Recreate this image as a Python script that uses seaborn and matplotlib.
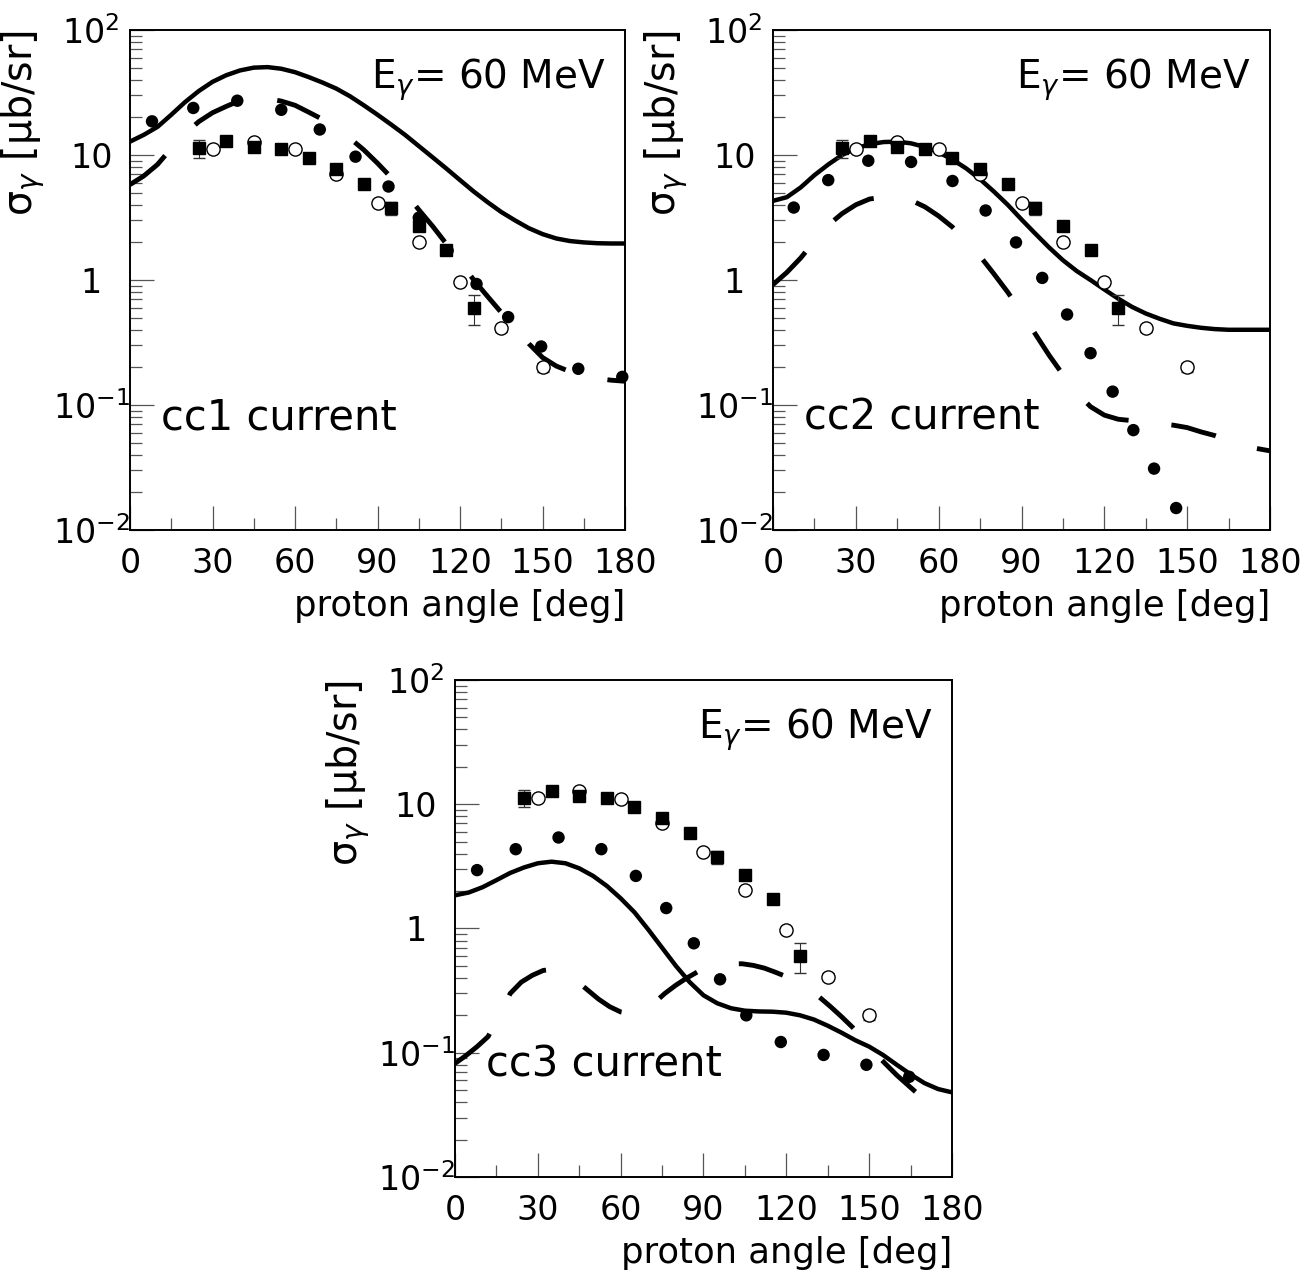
import matplotlib
matplotlib.use('Agg')
import matplotlib.pyplot as plt
import matplotlib.ticker as mticker
import seaborn as sns

# experimental data, same in all three panels (angle [deg], sigma [mub/sr])
sq_angle = [25, 35, 45, 55, 65, 75, 85, 95, 105, 115, 125]
sq_val = [11.3, 12.9, 11.7, 11.2, 9.5, 7.8, 5.9, 3.75, 2.72, 1.73, 0.60]
sq_err = [1.8, 0.5, 0.45, 0.4, 0.35, 0.3, 0.25, 0.45, 0.18, 0.12, 0.165]

oc_angle = [30, 45, 60, 75, 90, 105, 120, 135, 150]
oc_val = [11.2, 12.8, 11.1, 7.0, 4.15, 2.03, 0.97, 0.41, 0.20]
oc_err = [0.3, 0.3, 0.3, 0.2, 0.12, 0.06, 0.03, 0.025, 0.016]

# theory curves, read every 5 deg
curve_angle = [0, 5, 10, 15, 20, 25, 30, 35, 40, 45, 50, 55, 60, 65, 70, 75, 80, 85, 90,
               95, 100, 105, 110, 115, 120, 125, 130, 135, 140, 145, 150, 155, 160, 165,
               170, 175, 180]

cc1_solid = [12.8, 14.5, 16.8, 21, 26.5, 32.5, 38.5, 43.5, 47.5, 50, 50.5, 49, 46, 42, 38,
             34, 29.5, 25, 21, 17.5, 14.5, 11.8, 9.6, 7.8, 6.3, 5.1, 4.2, 3.5, 3.0, 2.6,
             2.33, 2.15, 2.05, 2.0, 1.97, 1.96, 1.96]
cc1_dash = [5.8, 6.8, 8.4, 11.3, 14.8, 18.5, 21.8, 24.5, 27.3, 28.5, 28.3, 27, 25, 22, 19.3,
            16.5, 13.6, 11, 8.6, 6.6, 5.0, 3.65, 2.7, 1.95, 1.42, 1.0, 0.74, 0.55, 0.42,
            0.31, 0.24, 0.205, 0.185, 0.172, 0.163, 0.158, 0.155]
cc1_dot_angle = [8, 23, 39, 55, 69, 82, 94, 105, 115.5, 126, 137.5, 149.5, 163, 179]
cc1_dot_val = [18.6, 23.8, 27.2, 23.0, 16.0, 9.7, 5.6, 3.15, 1.72, 0.93, 0.505, 0.294, 0.195, 0.168]

cc2_solid = [4.3, 4.6, 5.5, 6.9, 8.4, 10.0, 11.3, 12.2, 12.7, 12.8, 12.4, 11.6, 10.5, 9.2,
             7.8, 6.4, 5.1, 4.0, 3.05, 2.35, 1.82, 1.44, 1.18, 1.0, 0.84, 0.71, 0.61, 0.54,
             0.49, 0.45, 0.43, 0.415, 0.405, 0.4, 0.4, 0.4, 0.4]
cc2_dash = [0.92, 1.15, 1.5, 2.05, 2.75, 3.4, 4.0, 4.45, 4.6, 4.6, 4.35, 3.85, 3.25, 2.65,
            2.05, 1.55, 1.12, 0.8, 0.55, 0.37, 0.25, 0.175, 0.125, 0.097, 0.083, 0.077,
            0.075, 0.073, 0.071, 0.069, 0.066, 0.061, 0.057, 0.052, 0.048, 0.045, 0.043]
cc2_dot_angle = [7.5, 20, 34.5, 50, 65, 77, 88, 97.5, 106.5, 115, 123, 130.5, 138, 146]
cc2_dot_val = [3.8, 6.3, 9.0, 8.8, 6.2, 3.6, 2.0, 1.04, 0.53, 0.26, 0.128, 0.063, 0.031, 0.015]

cc3_solid = [1.85, 1.95, 2.15, 2.45, 2.8, 3.1, 3.35, 3.45, 3.35, 3.05, 2.65, 2.2, 1.75,
             1.35, 0.98, 0.7, 0.5, 0.37, 0.29, 0.25, 0.228, 0.218, 0.215, 0.214, 0.21,
             0.2, 0.185, 0.165, 0.145, 0.126, 0.112, 0.096, 0.08, 0.067, 0.057, 0.051, 0.048]
cc3_dash_angle = [0, 4, 8, 12, 16, 20, 24, 28, 32, 36, 40, 44, 48, 52, 56, 60, 64, 68, 72,
                  76, 80, 84, 88, 92, 96, 100, 104, 108, 112, 116, 120, 124, 128, 132, 136,
                  140, 144, 148, 152, 156, 160, 164, 167]
cc3_dash_val = [0.082, 0.095, 0.112, 0.135, 0.2, 0.3, 0.37, 0.42, 0.46, 0.47, 0.44, 0.38,
                0.32, 0.27, 0.235, 0.213, 0.205, 0.215, 0.25, 0.3, 0.35, 0.4, 0.45, 0.49,
                0.51, 0.52, 0.52, 0.505, 0.48, 0.445, 0.41, 0.37, 0.325, 0.28, 0.235, 0.195,
                0.16, 0.128, 0.1, 0.081, 0.066, 0.055, 0.048]
cc3_dot_angle = [8, 22, 37.5, 53, 65.5, 76.5, 86.5, 96, 105.5, 118, 133.5, 149, 164.5]
cc3_dot_val = [2.95, 4.35, 5.4, 4.35, 2.65, 1.46, 0.76, 0.39, 0.20, 0.122, 0.096, 0.080, 0.064]

panel_names = ['cc1 current', 'cc2 current', 'cc3 current']

sns.set_style('white')
plt.rcParams['font.family'] = ['DejaVu Sans']
plt.rcParams['mathtext.fontset'] = 'dejavusans'
plt.rcParams['lines.scale_dashes'] = False
plt.rcParams['text.color'] = 'black'
plt.rcParams['axes.labelcolor'] = 'black'
plt.rcParams['xtick.color'] = 'black'
plt.rcParams['ytick.color'] = 'black'

fig = plt.figure(figsize=(13.12, 12.72), dpi=100)
ax1 = fig.add_axes([0.0991, 0.5833, 0.3773, 0.3931])
ax2 = fig.add_axes([0.5892, 0.5833, 0.3788, 0.3931])
ax3 = fig.add_axes([0.3468, 0.0747, 0.3788, 0.3907])

ylabels = {0.01: r'$10^{-2}$', 0.1: r'$10^{-1}$', 1: '1', 10: '10', 100: r'$10^{2}$'}


def draw_panel(ax, solid, dash_x, dash_y, dot_x, dot_y, name):
    sns.lineplot(x=curve_angle, y=solid, ax=ax, color='black', lw=3.2,
                 estimator=None, sort=False)
    sns.lineplot(x=dash_x, y=dash_y, ax=ax, color='black', lw=3.5,
                 linestyle=(0, (33, 31)), estimator=None, sort=False)
    sns.scatterplot(x=dot_x, y=dot_y, ax=ax, color='black', s=80, marker='o',
                    edgecolor='none', clip_on=False, zorder=4)
    ax.errorbar(oc_angle, oc_val, yerr=oc_err, fmt='o', mfc='white', mec='black',
                ms=9.5, mew=1.0, ecolor='#333333', elinewidth=0.8, capsize=4.5, zorder=5)
    ax.errorbar(sq_angle, sq_val, yerr=sq_err, fmt='s', color='black', ms=9,
                ecolor='#333333', elinewidth=0.8, capsize=4.5, zorder=6)

    ax.set_yscale('log')
    ax.set_xlim(0, 180)
    ax.set_ylim(0.01, 100)
    ax.xaxis.set_major_locator(mticker.MultipleLocator(30))
    ax.xaxis.set_minor_locator(mticker.MultipleLocator(15))
    ax.yaxis.set_major_locator(mticker.FixedLocator([0.01, 0.1, 1, 10, 100]))
    ax.yaxis.set_minor_locator(mticker.LogLocator(base=10, subs=range(2, 10)))
    ax.yaxis.set_major_formatter(mticker.FuncFormatter(lambda v, p: ylabels.get(round(v, 3), '')))
    ax.yaxis.set_minor_formatter(mticker.NullFormatter())

    ax.tick_params(axis='both', which='major', direction='in', length=17, width=0.9,
                   color='#555555', labelsize=24, labelcolor='black',
                   top=False, right=False, bottom=True, left=True)
    ax.tick_params(axis='both', which='minor', direction='in', length=8.5, width=0.9,
                   color='#555555', top=False, right=False, bottom=True, left=True)
    ax.tick_params(axis='x', which='major', pad=12)
    ax.tick_params(axis='y', which='major', pad=28)
    for lbl in ax.get_yticklabels():
        lbl.set_horizontalalignment('center')

    for sp in ax.spines.values():
        sp.set_linewidth(1.4)
        sp.set_color('black')

    ax.set_xlabel('proton angle [deg]', fontsize=25.5, loc='right')
    ax.xaxis.set_label_coords(1.0, -0.118)
    ax.set_ylabel(r'$\mathrm{\sigma}_\gamma$ [$\mathrm{\mu}$b/sr]', fontsize=28.5, loc='top')
    ax.yaxis.set_label_coords(-0.168, 1.0)

    ax.text(0.96, 0.9, r'E$_\gamma$= 60 MeV', transform=ax.transAxes, ha='right',
            va='center', fontsize=28)
    ax.text(0.062, 0.226, name, transform=ax.transAxes, ha='left', va='center',
            fontsize=30)


draw_panel(ax1, cc1_solid, curve_angle, cc1_dash, cc1_dot_angle, cc1_dot_val, panel_names[0])
draw_panel(ax2, cc2_solid, curve_angle, cc2_dash, cc2_dot_angle, cc2_dot_val, panel_names[1])
draw_panel(ax3, cc3_solid, cc3_dash_angle, cc3_dash_val, cc3_dot_angle, cc3_dot_val, panel_names[2])

fig.savefig('out.png', dpi=100)
